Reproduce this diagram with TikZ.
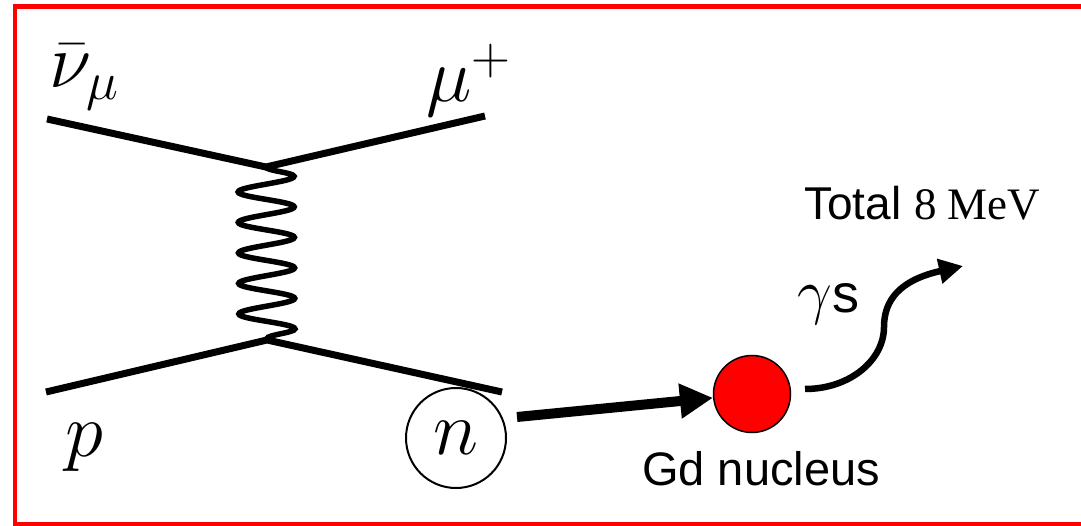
\documentclass[tikz,border=0pt]{standalone}
\usepackage{fix-cm}
\usepackage{fontspec}
\usepackage{tikz}
\usepackage{xcolor}
\usetikzlibrary{arrows.meta, positioning, decorations.pathmorphing}
\newfontfamily\labelsans{Liberation Sans}
\newfontfamily\labelserif{Liberation Serif}
\definecolor{frameRed}{RGB}{255,0,0}
\definecolor{gdRed}{RGB}{255,0,0}
\tikzset{
    fermion/.style={line width=7pt, draw=black},
    boson/.style={
        line width=5.5pt,
        draw=black,
        decorate,
        decoration={snake, amplitude=28pt, segment length=30.5pt}
    },
    mathlabel/.style={inner sep=0pt, anchor=base west, font=\fontsize{77}{80}\selectfont},
    textlabel/.style={inner sep=0pt, anchor=base west, font=\labelsans\fontsize{47}{50}\selectfont},
    neutron/.style={circle, draw=black, line width=2pt, minimum size=100pt, inner sep=0pt,
        font=\fontsize{77}{80}\selectfont},
    nucleus/.style={circle, draw=black, line width=1.5pt, fill=gdRed, minimum size=77pt, inner sep=0pt},
    capturearrow/.style={-{Triangle[length=33pt, width=33pt]}, line width=10pt, draw=black},
    gammaarrow/.style={-{Triangle[length=24pt, width=24pt]}, line width=6.5pt, draw=black}
}
\begin{document}
\begin{tikzpicture}[x=1pt, y=1pt]
    \useasboundingbox (0,0) rectangle (1081,525);
    \clip (0,0) rectangle (1081,525);
    \draw[frameRed, line width=4.8pt] (15,518.3) rectangle (1084,0.5);
    % vertices and external legs
    \coordinate (vtop) at (266,358);
    \coordinate (vbot) at (267,185);
    \coordinate (nubar) at (47,406);
    \coordinate (muon) at (485,409);
    \coordinate (proton) at (46,133);
    \coordinate (nout) at (502,133);
    \draw[fermion] (nubar) -- (vtop) -- (muon);
    \draw[fermion] (proton) -- (vbot) -- (nout);
    \draw[boson] (vtop) -- (vbot);
    % labels
    \node[mathlabel] (nulabel) at (49,437) {$\bar{\nu}_{\mu}$};
    \node[mathlabel] (mulabel) at (426,423) {$\mu^{+}$};
    \node[mathlabel] (plabel) at (65,69) {$p$};
    % neutron capture on Gd
    \node[neutron] (neutron) at (456,87) {$n$};
    \node[nucleus] (gd) at (752,131) {};
    \node[textlabel] (gdlabel) at (642,40) {Gd nucleus};
    \coordinate (capstart) at (517,108);
    \draw[capturearrow] (capstart) -- (gd);
    % gamma emission
    \coordinate (gstart) at (805,136);
    \coordinate (gend) at (963,259);
    \draw[gammaarrow] (gstart) .. controls (850,136) and (884,165) .. (884,198)
        .. controls (884,225) and (900,245) .. (gend);
    \node[textlabel, font=\labelsans\fontsize{54}{58}\selectfont] (gammalabel) at (797,212)
        {{\fontsize{62}{64}\selectfont$\gamma$}s};
    \node[textlabel, font=\labelsans\fontsize{46}{50}\selectfont] (totallabel) at (804,305)
        {Total {\labelserif\fontsize{45}{50}\selectfont 8 MeV}};
\end{tikzpicture}
\end{document}
